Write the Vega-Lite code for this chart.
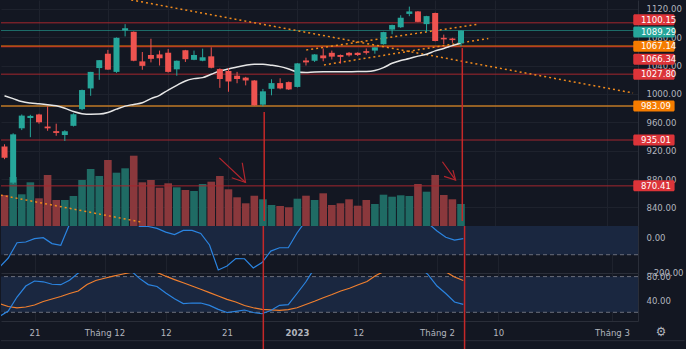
{
  "$schema": "https://vega.github.io/schema/vega-lite/v6.json",
  "background": "#131722",
  "padding": 0,
  "spacing": 0,
  "bounds": "flush",
  "config": {
    "view": {"stroke": null},
    "font": "Liberation Sans Narrow, DejaVu Sans Condensed, Liberation Sans, sans-serif",
    "axis": {"labelFont": "Liberation Sans Narrow, DejaVu Sans Condensed, Liberation Sans, sans-serif", "labelColor": "#b2b5be", "labelFontSize": 9.5, "ticks": false, "tickSize": 0, "domainColor": "#2a2e39", "gridColor": "#1e222d", "labelFlush": false, "labelOverlap": false}
  },
  "datasets": {
    "bars": [
      {"i":-4,"o":926,"h":929,"l":908,"c":910,"v":310,"ma":997.3,"cci":-171,"k":13,"d":34.8},
      {"i":-3,"o":875,"h":944.5,"l":873,"c":943,"v":490,"ma":993.3,"cci":-119,"k":22,"d":29.7},
      {"i":-2,"o":951.5,"h":971,"l":949,"c":969.4,"v":317,"ma":989.2,"cci":-31,"k":45.7,"d":27.6},
      {"i":-1,"o":966,"h":970.5,"l":939,"c":969,"v":437,"ma":987.2,"cci":-27,"k":64.2,"d":28.9},
      {"i":0,"o":971,"h":972,"l":958,"c":960,"v":277,"ma":986.1,"cci":-8,"k":72.6,"d":32.3},
      {"i":1,"o":954,"h":982.5,"l":948,"c":951.5,"v":510,"ma":984.8,"cci":-2,"k":71.3,"d":38.2},
      {"i":2,"o":947.5,"h":958,"l":941,"c":945,"v":260,"ma":983.2,"cci":-36,"k":67.1,"d":42.4},
      {"i":3,"o":942,"h":948.8,"l":933.6,"c":947.5,"v":260,"ma":979.8,"cci":-46,"k":66.4,"d":46.6},
      {"i":4,"o":955,"h":972.7,"l":954,"c":971.3,"v":300,"ma":975.1,"cci":75,"k":73.8,"d":51.6},
      {"i":5,"o":978.5,"h":1006,"l":977,"c":1005.4,"v":460,"ma":972.1,"cci":150,"k":86,"d":55.8},
      {"i":6,"o":1007.7,"h":1031,"l":997.3,"c":1031,"v":570,"ma":971.3,"cci":190,"k":95,"d":66.7},
      {"i":7,"o":1036.4,"h":1047.5,"l":1019.8,"c":1047.5,"v":500,"ma":971.5,"cci":200,"k":100,"d":73.4},
      {"i":8,"o":1056.6,"h":1062,"l":1034,"c":1034.2,"v":660,"ma":973.7,"cci":170,"k":100,"d":77.3},
      {"i":9,"o":1031,"h":1079.5,"l":1029.6,"c":1079,"v":533,"ma":978.5,"cci":210,"k":100,"d":80.8},
      {"i":10,"o":1089.3,"h":1098.3,"l":1081,"c":1092.5,"v":577,"ma":982.8,"cci":220,"k":98,"d":84},
      {"i":11,"o":1087.5,"h":1088,"l":1046,"c":1046.7,"v":703,"ma":985.2,"cci":120,"k":90,"d":87},
      {"i":12,"o":1045.8,"h":1059,"l":1034,"c":1039.5,"v":437,"ma":987.5,"cci":62,"k":77,"d":89},
      {"i":13,"o":1054.8,"h":1077.7,"l":1044.4,"c":1049.4,"v":460,"ma":993.3,"cci":62,"k":66.6,"d":89},
      {"i":14,"o":1055.6,"h":1061,"l":1040,"c":1050.2,"v":383,"ma":998,"cci":51,"k":63.4,"d":87},
      {"i":15,"o":1058,"h":1063.3,"l":1030,"c":1031,"v":427,"ma":1005.4,"cci":30,"k":52.4,"d":80.7},
      {"i":16,"o":1034.6,"h":1047,"l":1025.6,"c":1046.7,"v":387,"ma":1012.1,"cci":16,"k":42.7,"d":75},
      {"i":17,"o":1061.5,"h":1062,"l":1045,"c":1048.9,"v":360,"ma":1018.2,"cci":40,"k":34.6,"d":69.6},
      {"i":18,"o":1048,"h":1061,"l":1047.5,"c":1054.8,"v":350,"ma":1021.5,"cci":40,"k":35.6,"d":64.2},
      {"i":19,"o":1046.7,"h":1063.7,"l":1046,"c":1051.6,"v":420,"ma":1022.9,"cci":22,"k":35.6,"d":58.7},
      {"i":20,"o":1052.9,"h":1065.6,"l":1036,"c":1036.8,"v":443,"ma":1027.6,"cci":-44,"k":31.6,"d":53.1},
      {"i":21,"o":1035,"h":1036,"l":1008.5,"c":1021,"v":500,"ma":1032.3,"cci":-188,"k":24.9,"d":47.4},
      {"i":22,"o":1032.3,"h":1036.4,"l":1003,"c":1017.5,"v":367,"ma":1035,"cci":-165,"k":19.7,"d":41.7},
      {"i":23,"o":1025.6,"h":1031,"l":1015,"c":1021,"v":287,"ma":1038,"cci":-122,"k":21.7,"d":37.3},
      {"i":24,"o":1022.9,"h":1024,"l":1012,"c":1018.9,"v":227,"ma":1040.4,"cci":-123,"k":23.9,"d":31.4},
      {"i":25,"o":1018.9,"h":1019.5,"l":983.5,"c":983.8,"v":303,"ma":1041.8,"cci":-176,"k":19.7,"d":27.6},
      {"i":26,"o":984.8,"h":1007,"l":982.5,"c":1003.6,"v":267,"ma":1041.8,"cci":-145,"k":17.6,"d":25},
      {"i":27,"o":1007.1,"h":1020.6,"l":998,"c":1015.2,"v":210,"ma":1040.4,"cci":-79,"k":23,"d":24.2},
      {"i":28,"o":1015.2,"h":1022,"l":1006.5,"c":1007.7,"v":200,"ma":1038.4,"cci":-60,"k":31.8,"d":23.4},
      {"i":29,"o":1016.6,"h":1017.5,"l":1005.5,"c":1006.3,"v":187,"ma":1035,"cci":-60,"k":32.8,"d":24.4},
      {"i":30,"o":1009.8,"h":1043.5,"l":1009,"c":1043,"v":273,"ma":1031,"cci":25,"k":51.6,"d":27.6},
      {"i":31,"o":1047.1,"h":1051,"l":1040,"c":1044.4,"v":303,"ma":1030.3,"cci":95,"k":70.9,"d":33.1},
      {"i":32,"o":1046.7,"h":1056,"l":1045,"c":1055.6,"v":260,"ma":1031,"cci":130,"k":94,"d":38.5},
      {"i":33,"o":1054.2,"h":1064,"l":1046,"c":1050.2,"v":327,"ma":1031.1,"cci":110,"k":97,"d":44.4},
      {"i":34,"o":1057.9,"h":1061,"l":1048.5,"c":1052.5,"v":210,"ma":1031.2,"cci":100,"k":100,"d":49.9},
      {"i":35,"o":1054.8,"h":1055.5,"l":1042.7,"c":1052.1,"v":227,"ma":1031.2,"cci":90,"k":100,"d":55.8},
      {"i":36,"o":1057.9,"h":1059,"l":1052.5,"c":1054.3,"v":267,"ma":1031.3,"cci":95,"k":100,"d":60.5},
      {"i":37,"o":1057.9,"h":1058.5,"l":1053.5,"c":1054.8,"v":203,"ma":1031.4,"cci":100,"k":100,"d":66.4},
      {"i":38,"o":1060.2,"h":1064,"l":1055.5,"c":1057.9,"v":260,"ma":1031.6,"cci":110,"k":100,"d":71.8},
      {"i":39,"o":1061,"h":1065.6,"l":1056.6,"c":1065.6,"v":220,"ma":1033,"cci":160,"k":100,"d":82},
      {"i":40,"o":1070,"h":1087.5,"l":1069.5,"c":1087.1,"v":313,"ma":1037,"cci":200,"k":100,"d":89},
      {"i":41,"o":1090.6,"h":1097.5,"l":1084,"c":1097,"v":293,"ma":1043.1,"cci":190,"k":100,"d":93},
      {"i":42,"o":1093.9,"h":1110.8,"l":1093,"c":1107.3,"v":307,"ma":1047.1,"cci":200,"k":100,"d":96},
      {"i":43,"o":1112.7,"h":1123,"l":1109.5,"c":1116.2,"v":300,"ma":1049.8,"cci":190,"k":100,"d":97},
      {"i":44,"o":1116.2,"h":1116.8,"l":1101,"c":1101.5,"v":420,"ma":1053.2,"cci":130,"k":96,"d":97},
      {"i":45,"o":1098.3,"h":1110,"l":1087,"c":1109.6,"v":343,"ma":1055.9,"cci":80,"k":83,"d":95},
      {"i":46,"o":1114,"h":1114.5,"l":1074,"c":1074.5,"v":510,"ma":1060.6,"cci":36,"k":64.2,"d":92},
      {"i":47,"o":1079,"h":1083.5,"l":1070,"c":1076.8,"v":310,"ma":1064,"cci":0,"k":51.6,"d":88},
      {"i":48,"o":1078,"h":1079,"l":1072,"c":1075.8,"v":267,"ma":1068,"cci":-16,"k":37.3,"d":79.3},
      {"i":49,"o":1071.4,"h":1089.5,"l":1067,"c":1089.29,"v":220,"ma":1071.4,"cci":-8,"k":33.3,"d":73.4}
    ],
    "levels": [
      {"p":1100.15,"kind":"res"},
      {"p":1089.29,"kind":"last"},
      {"p":1067.14,"kind":"key"},
      {"p":1066.34,"kind":"res"},
      {"p":1027.80,"kind":"res"},
      {"p":983.09,"kind":"sup"},
      {"p":935.01,"kind":"res"},
      {"p":870.41,"kind":"res"}
    ],
    "trend": [
      {"id":"down","i":5,"p":1145.25},
      {"id":"down","i":68.97,"p":1001.35},
      {"id":"up1","i":31.03,"p":1061.95},
      {"id":"up1","i":51.03,"p":1098.3},
      {"id":"up2","i":33.09,"p":1040.8},
      {"id":"up2","i":52.17,"p":1078.1},
      {"id":"vol","i":-5,"p":858.6},
      {"id":"vol","i":12,"p":819.1}
    ],
    "arrows": [
      {"id":"a1s","n":0,"i":20.94,"p":909.8},
      {"id":"a1s","n":1,"i":23.98,"p":875.2},
      {"id":"a1h","n":0,"i":23.6,"p":903.0},
      {"id":"a1h","n":1,"i":23.98,"p":875.2},
      {"id":"a1h","n":2,"i":22.38,"p":881.9},
      {"id":"a2s","n":0,"i":46.84,"p":904.4},
      {"id":"a2s","n":1,"i":48.37,"p":878.4},
      {"id":"a2h","n":0,"i":48.06,"p":892.7},
      {"id":"a2h","n":1,"i":48.37,"p":878.4},
      {"id":"a2h","n":2,"i":47.03,"p":883.8}
    ],
    "vlines": [
      {"i":26.15,"top":974.4},
      {"i":49.15,"top":1064.6}
    ],
    "cciband": [{"lo":-100,"hi":100}],
    "ccilev": [{"lvl":100},{"lvl":-100}],
    "stband": [{"lo":20,"hi":80}],
    "stlev": [{"lvl":80},{"lvl":20}]
  },
  "vconcat": [
    {
      "width": 637,
      "height": 226,
      "resolve": {"scale": {"y": "independent"}},
      "layer": [
        {
          "data": {"name": "bars"},
          "mark": {"type": "bar", "size": 7.6, "clip": true},
          "encoding": {
            "x": {"field": "i", "type": "quantitative", "scale": {"domain": [-3.83, 68.97], "nice": false, "zero": false},
              "axis": {"values": [0, 8, 15, 22, 30, 37, 46, 53, 66], "tickCount": 50, "labels": false, "grid": true, "domain": true, "title": null}},
            "y": {"field": "v", "type": "quantitative", "scale": {"domain": [0, 2260], "nice": false},
              "axis": {"orient": "left", "labels": false, "grid": false, "domain": false, "ticks": false, "title": null}},
            "color": {"condition": {"test": "datum.c >= datum.o", "value": "#1f6b64"}, "value": "#8a383c"}
          }
        },
        {
          "layer": [
            {
              "data": {"name": "levels"},
              "mark": {"type": "rule", "clip": true},
              "encoding": {
                "y": {"field": "p", "type": "quantitative", "scale": {"domain": [820.9, 1125.25], "nice": false, "zero": false},
                  "axis": {"orient": "right", "values": [840, 880, 920, 960, 1000, 1040, 1080, 1120], "tickCount": 50, "format": ".2f", "labelAlign": "left", "labelPadding": 8, "labelOverlap": false, "labelFlush": false, "grid": true, "domain": true, "title": null}},
                "color": {"condition": [{"test": "datum.kind == 'last'", "value": "#26a69a"}, {"test": "datum.kind == 'key'", "value": "#f57c00"}, {"test": "datum.kind == 'sup'", "value": "#c07a26"}], "value": "#a3262e"},
                "strokeWidth": {"condition": {"test": "datum.kind == 'key' || datum.kind == 'sup'", "value": 1.5}, "value": 1},
                "opacity": {"condition": {"test": "datum.kind == 'last'", "value": 0.6}, "value": 1}
              }
            },
            {
              "data": {"name": "trend"},
              "mark": {"type": "line", "color": "#f08a1c", "strokeWidth": 1.5, "strokeDash": [2, 3], "clip": true},
              "encoding": {
                "x": {"field": "i", "type": "quantitative", "title": null},
                "y": {"field": "p", "type": "quantitative", "title": null},
                "detail": {"field": "id"}
              }
            },
            {
              "data": {"name": "bars"},
              "mark": {"type": "line", "color": "#e6e6e6", "strokeWidth": 1.5, "interpolate": "monotone", "clip": true},
              "encoding": {
                "x": {"field": "i", "type": "quantitative", "title": null},
                "y": {"field": "ma", "type": "quantitative", "title": null}
              }
            },
            {
              "data": {"name": "bars"},
              "mark": {"type": "rule", "strokeWidth": 1, "clip": true},
              "encoding": {
                "x": {"field": "i", "type": "quantitative", "title": null},
                "y": {"field": "l", "type": "quantitative", "title": null},
                "y2": {"field": "h"},
                "color": {"condition": {"test": "datum.c >= datum.o", "value": "#26a69a"}, "value": "#ef5350"}
              }
            },
            {
              "data": {"name": "bars"},
              "mark": {"type": "bar", "size": 6, "clip": true},
              "encoding": {
                "x": {"field": "i", "type": "quantitative", "title": null},
                "y": {"field": "o", "type": "quantitative", "title": null},
                "y2": {"field": "c"},
                "color": {"condition": {"test": "datum.c >= datum.o", "value": "#26a69a"}, "value": "#ef5350"}
              }
            },
            {
              "data": {"name": "arrows"},
              "mark": {"type": "line", "color": "#b3262e", "strokeWidth": 1.2, "clip": true},
              "encoding": {
                "x": {"field": "i", "type": "quantitative", "title": null},
                "y": {"field": "p", "type": "quantitative", "title": null},
                "detail": {"field": "id"},
                "order": {"field": "n"}
              }
            },
            {
              "data": {"name": "vlines"},
              "mark": {"type": "rule", "color": "#c62828", "strokeWidth": 1.5, "clip": true},
              "encoding": {
                "x": {"field": "i", "type": "quantitative", "title": null},
                "y": {"field": "top", "type": "quantitative", "title": null},
                "y2": {"datum": 820.9}
              }
            },
            {
              "data": {"name": "levels"},
              "transform": [{"filter": "datum.p != 1100.15 && datum.p != 1089.29 && datum.p != 1066.34"}],
              "encoding": {
                "y": {"field": "p", "type": "quantitative", "title": null}
              },
              "layer": [
                {
                  "mark": {"type": "bar", "size": 11, "cornerRadius": 1.5},
                  "encoding": {
                    "x": {"datum": 69.0, "type": "quantitative", "title": null},
                    "x2": {"datum": 73.8},
                    "color": {"condition": [{"test": "datum.kind == 'last'", "value": "#26a69a"}, {"test": "datum.kind == 'key' || datum.kind == 'sup'", "value": "#f57c00"}], "value": "#dc3439"}
                  }
                },
                {
                  "mark": {"type": "text", "align": "left", "baseline": "middle", "color": "#ffffff", "fontSize": 9.5},
                  "encoding": {
                    "x": {"datum": 69.89, "type": "quantitative", "title": null},
                    "text": {"field": "p", "type": "quantitative", "format": ".2f"}
                  }
                }
              ]
            },
            {
              "data": {"name": "levels"},
              "transform": [{"filter": "datum.p == 1100.15"}],
              "encoding": {
                "y": {"field": "p", "type": "quantitative", "title": null}
              },
              "layer": [
                {
                  "mark": {"type": "bar", "size": 11, "cornerRadius": 1.5, "yOffset": -3, "color": "#dc3439"},
                  "encoding": {
                    "x": {"datum": 69.0, "type": "quantitative", "title": null},
                    "x2": {"datum": 73.8}
                  }
                },
                {
                  "mark": {"type": "text", "align": "left", "baseline": "middle", "color": "#ffffff", "fontSize": 9.5, "yOffset": -3},
                  "encoding": {
                    "x": {"datum": 69.89, "type": "quantitative", "title": null},
                    "text": {"field": "p", "type": "quantitative", "format": ".2f"}
                  }
                }
              ]
            },
            {
              "data": {"name": "levels"},
              "transform": [{"filter": "datum.p == 1089.29"}],
              "encoding": {
                "y": {"field": "p", "type": "quantitative", "title": null}
              },
              "layer": [
                {
                  "mark": {"type": "bar", "size": 11, "cornerRadius": 1.5, "yOffset": 1.5, "color": "#26a69a"},
                  "encoding": {
                    "x": {"datum": 69.0, "type": "quantitative", "title": null},
                    "x2": {"datum": 73.8}
                  }
                },
                {
                  "mark": {"type": "text", "align": "left", "baseline": "middle", "color": "#ffffff", "fontSize": 9.5, "yOffset": 1.5},
                  "encoding": {
                    "x": {"datum": 69.89, "type": "quantitative", "title": null},
                    "text": {"field": "p", "type": "quantitative", "format": ".2f"}
                  }
                }
              ]
            },
            {
              "data": {"name": "levels"},
              "transform": [{"filter": "datum.p == 1066.34"}],
              "encoding": {
                "y": {"field": "p", "type": "quantitative", "title": null}
              },
              "layer": [
                {
                  "mark": {"type": "bar", "size": 11, "cornerRadius": 1.5, "yOffset": 12.5, "color": "#dc3439"},
                  "encoding": {
                    "x": {"datum": 69.0, "type": "quantitative", "title": null},
                    "x2": {"datum": 73.8}
                  }
                },
                {
                  "mark": {"type": "text", "align": "left", "baseline": "middle", "color": "#ffffff", "fontSize": 9.5, "yOffset": 12.5},
                  "encoding": {
                    "x": {"datum": 69.89, "type": "quantitative", "title": null},
                    "text": {"field": "p", "type": "quantitative", "format": ".2f"}
                  }
                }
              ]
            }
          ]
        }
      ]
    },
    {
      "width": 637,
      "height": 47,
      "layer": [
        {
          "data": {"name": "cciband"},
          "mark": {"type": "rect", "color": "#1a2740", "clip": true},
          "encoding": {
            "x": {"datum": -3.83, "type": "quantitative", "scale": {"domain": [-3.83, 68.97], "nice": false, "zero": false},
              "axis": {"values": [0, 8, 15, 22, 30, 37, 46, 53, 66], "tickCount": 50, "labels": false, "grid": true, "domain": true, "title": null}},
            "x2": {"datum": 68.97},
            "y": {"field": "hi", "type": "quantitative", "scale": {"domain": [-205, 65], "nice": false, "zero": false},
              "axis": {"orient": "right", "values": [0, -200], "format": ".2f", "labelAlign": "left", "labelBaseline": "middle", "labelPadding": 8, "labelOverlap": false, "labelFlush": false, "grid": false, "domain": true, "title": null}},
            "y2": {"field": "lo"}
          }
        },
        {
          "data": {"name": "ccilev"},
          "mark": {"type": "rule", "color": "#6b6f7b", "strokeDash": [4, 3], "strokeWidth": 1, "clip": true},
          "encoding": {
            "y": {"field": "lvl", "type": "quantitative", "title": null}
          }
        },
        {
          "data": {"name": "bars"},
          "mark": {"type": "line", "color": "#2b84e0", "strokeWidth": 1.2, "clip": true},
          "encoding": {
            "x": {"field": "i", "type": "quantitative", "title": null},
            "y": {"field": "cci", "type": "quantitative", "title": null}
          }
        },
        {
          "data": {"name": "vlines"},
          "mark": {"type": "rule", "color": "#c62828", "strokeWidth": 1.5},
          "encoding": {
            "x": {"field": "i", "type": "quantitative", "title": null}
          }
        }
      ]
    },
    {
      "width": 637,
      "height": 48,
      "layer": [
        {
          "data": {"name": "stband"},
          "mark": {"type": "rect", "color": "#1a2740", "clip": true},
          "encoding": {
            "x": {"datum": -3.83, "type": "quantitative", "scale": {"domain": [-3.83, 68.97], "nice": false, "zero": false},
              "axis": {"values": [0, 8, 15, 22, 30, 37, 46, 53, 66], "tickCount": 50, "labels": true, "grid": true, "domain": true, "title": null, "labelPadding": 6, "labelOverlap": false,
                "labelExpr": "datum.value == 8 ? 'Tháng 12' : datum.value == 30 ? '2023' : datum.value == 46 ? 'Tháng 2' : datum.value == 66 ? 'Tháng 3' : (datum.value == 0 || datum.value == 22) ? '21' : (datum.value == 15 || datum.value == 37) ? '12' : '10'",
                "labelFontWeight": {"condition": {"test": "datum.value == 30", "value": "bold"}, "value": "normal"}}},
            "x2": {"datum": 68.97},
            "y": {"field": "hi", "type": "quantitative", "scale": {"domain": [5.4, 86.05], "nice": false, "zero": false},
              "axis": {"orient": "right", "values": [80, 40], "format": ".2f", "labelAlign": "left", "labelBaseline": "middle", "labelPadding": 8, "labelOverlap": false, "labelFlush": false, "grid": false, "domain": true, "title": null}},
            "y2": {"field": "lo"}
          }
        },
        {
          "data": {"name": "stlev"},
          "mark": {"type": "rule", "color": "#6b6f7b", "strokeDash": [4, 3], "strokeWidth": 1, "clip": true},
          "encoding": {
            "y": {"field": "lvl", "type": "quantitative", "title": null}
          }
        },
        {
          "data": {"name": "bars"},
          "mark": {"type": "line", "color": "#f07f2e", "strokeWidth": 1.2, "clip": true},
          "encoding": {
            "x": {"field": "i", "type": "quantitative", "title": null},
            "y": {"field": "d", "type": "quantitative", "title": null}
          }
        },
        {
          "data": {"name": "bars"},
          "mark": {"type": "line", "color": "#2b84e0", "strokeWidth": 1.2, "clip": true},
          "encoding": {
            "x": {"field": "i", "type": "quantitative", "title": null},
            "y": {"field": "k", "type": "quantitative", "title": null}
          }
        },
        {
          "data": {"values": [{"line": "bottom"}]},
          "mark": {"type": "rule", "color": "#2a2e39", "strokeWidth": 1},
          "encoding": {
            "x": {"datum": -3.83, "type": "quantitative", "title": null},
            "x2": {"datum": 74.3},
            "y": {"datum": -27.7, "type": "quantitative", "title": null}
          }
        },
        {
          "data": {"values": [{"icon": "⚙"}]},
          "mark": {"type": "text", "color": "#b2b5be", "fontSize": 13, "baseline": "middle", "align": "center"},
          "encoding": {
            "x": {"datum": 71.6, "type": "quantitative", "title": null},
            "y": {"datum": -12.6, "type": "quantitative", "title": null},
            "text": {"field": "icon"}
          }
        },
        {
          "data": {"name": "vlines"},
          "mark": {"type": "rule", "color": "#c62828", "strokeWidth": 1.5},
          "encoding": {
            "x": {"field": "i", "type": "quantitative", "title": null},
            "y": {"datum": 86.05, "type": "quantitative", "title": null},
            "y2": {"datum": -41.7}
          }
        }
      ]
    }
  ]
}
